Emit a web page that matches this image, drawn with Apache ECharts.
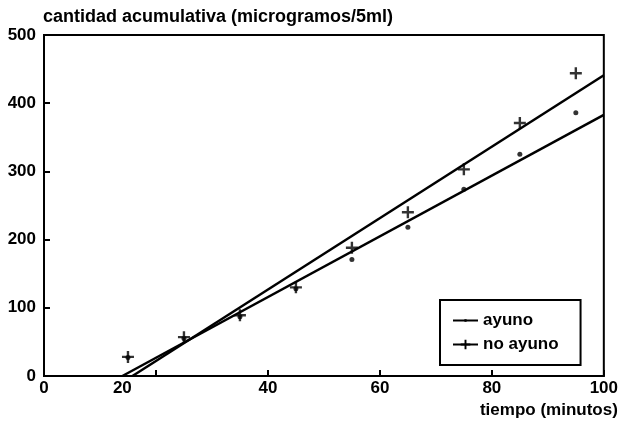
<!DOCTYPE html>
<html lang="es">
<head>
    <meta charset="UTF-8"/>
    <title>cantidad acumulativa</title>
    <script src="https://cdn.jsdelivr.net/npm/echarts@6/dist/echarts.min.js"></script>
</head>
<body style="margin:0">
<div id="main" style="width:621px;height:429px;"></div>

<script type="text/javascript">
    // tiempos de muestreo (minutos)
    var tiempos = [15, 25, 35, 45, 55, 65, 75, 85, 95];
    // cantidad acumulativa observada
    var ayuno = [27, 55, 87, 128, 171, 218, 274, 325, 386];
    var noAyuno = [28, 57, 89, 130, 188, 240, 303, 371, 444];
    // rectas ajustadas [tiempo, cantidad]
    var ajusteAyuno = [[14, 0], [100, 383]];
    var ajusteNoAyuno = [[15.8, 0], [100, 441]];
    // etiquetas del eje x (la del 20 está corrida en el original)
    var xEtiquetas = ['0', '20', '40', '60', '80', '100'];
    var xPosEtiquetas = [0, 14, 40, 60, 80, 100];

    var cruz = 'path://M4,0 H6 V4 H10 V6 H6 V10 H4 V6 H0 V4 H4 Z';
    // punto chico dentro de una caja de 10x10 (para la leyenda)
    var puntito = 'path://M0,0 M10,10 M4.2,3.8 H5.8 L6.3,4.3 V5.7 L5.8,6.2 H4.2 L3.7,5.7 V4.3 Z';
    var fuente = 'Liberation Sans';

    function pares(xs, ys) {
        var out = [];
        for (var i = 0; i < xs.length; i++) out.push([xs[i], ys[i]]);
        return out;
    }

    var myChart = echarts.init(document.getElementById('main'));
    var option = {
        animation: false,
        backgroundColor: '#fff',
        textStyle: {fontFamily: fuente, color: '#000'},
        title: {
            text: 'cantidad acumulativa (microgramos/5ml)',
            left: 38,
            top: 3,
            textStyle: {fontFamily: fuente, fontSize: 18, fontWeight: 'bold', color: '#000'}
        },
        grid: {
            left: 44, right: 17, top: 35, bottom: 53,
            show: true, borderColor: '#000', borderWidth: 2
        },
        legend: {
            orient: 'vertical',
            left: 440,
            top: 300,
            data: ['ayuno', 'no ayuno'],
            itemWidth: 25,
            itemHeight: 12,
            itemGap: 7,
            padding: [12, 22, 12, 12],
            borderColor: '#000',
            borderWidth: 2,
            textStyle: {fontFamily: fuente, fontSize: 17, fontWeight: 'bold', color: '#000'}
        },
        xAxis: {
            type: 'value',
            min: 0, max: 100, interval: 20,
            name: 'tiempo (minutos)',
            nameLocation: 'end',
            nameGap: 14,
            nameTextStyle: {
                fontFamily: fuente, fontSize: 17, fontWeight: 'bold', color: '#000',
                align: 'right', verticalAlign: 'top', padding: [26, 0, 0, 0]
            },
            axisLine: {lineStyle: {color: '#000', width: 2}},
            axisTick: {inside: true, length: 6, lineStyle: {color: '#000', width: 2}},
            axisLabel: {
                customValues: xPosEtiquetas,
                formatter: function (v) { return xEtiquetas[xPosEtiquetas.indexOf(v)]; },
                margin: 4,
                fontFamily: fuente, fontSize: 17, fontWeight: 'bold', color: '#000'
            },
            splitLine: {show: false}
        },
        yAxis: {
            type: 'value',
            min: 0, max: 500, interval: 100,
            axisLine: {show: true, lineStyle: {color: '#000', width: 2}},
            axisTick: {show: true, inside: true, length: 6, lineStyle: {color: '#000', width: 2}},
            axisLabel: {margin: 8, fontFamily: fuente, fontSize: 17, fontWeight: 'bold', color: '#000'},
            splitLine: {show: false}
        },
        series: [
            {
                name: 'ayuno',
                type: 'line',
                data: ajusteAyuno,
                symbol: puntito,
                showSymbol: false,
                lineStyle: {color: '#000', width: 2.5},
                itemStyle: {color: '#000'}
            },
            {
                name: 'no ayuno',
                type: 'line',
                data: ajusteNoAyuno,
                symbol: cruz,
                showSymbol: false,
                lineStyle: {color: '#000', width: 2.5},
                itemStyle: {color: '#000'}
            },
            {
                name: 'ayuno',
                type: 'scatter',
                data: pares(tiempos, ayuno),
                symbol: 'circle',
                symbolSize: 5,
                itemStyle: {color: '#000'}
            },
            {
                name: 'no ayuno',
                type: 'scatter',
                data: pares(tiempos, noAyuno),
                symbol: cruz,
                symbolSize: 12,
                itemStyle: {color: '#000'}
            }
        ]
    };
    myChart.setOption(option);
</script>
</body>
</html>
